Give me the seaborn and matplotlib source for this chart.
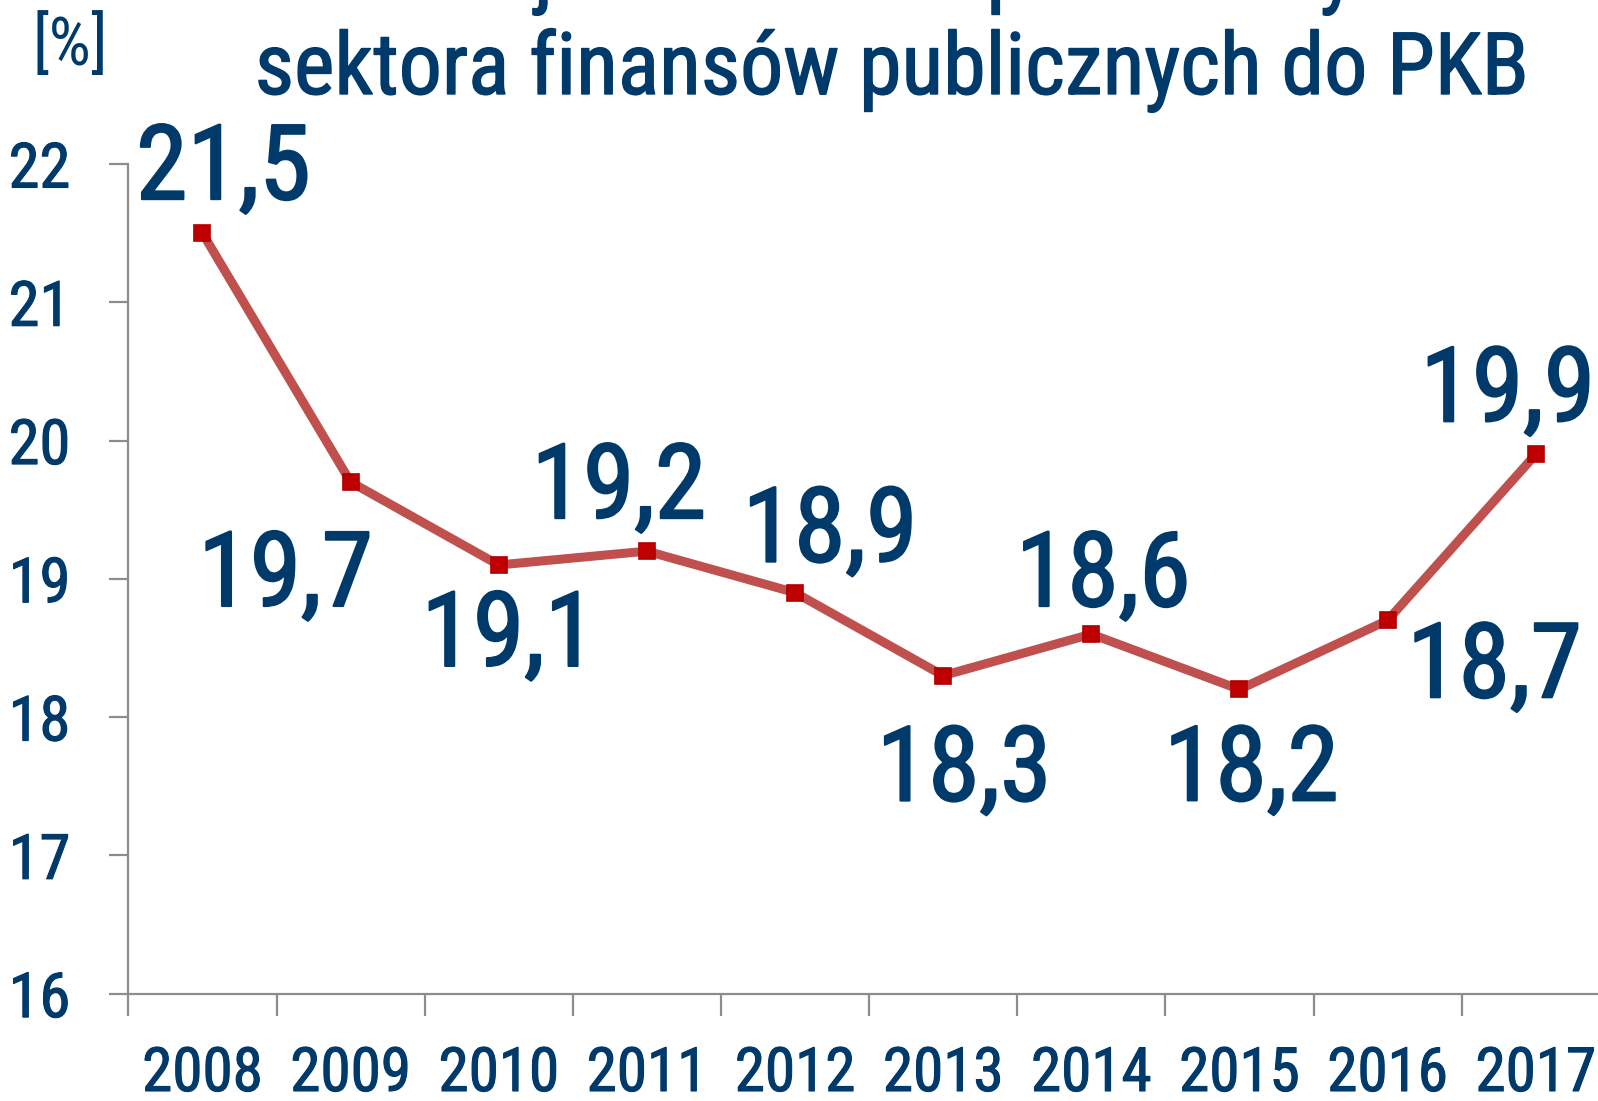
import matplotlib
matplotlib.use("Agg")
import matplotlib.pyplot as plt
import matplotlib.patheffects as pe
import seaborn as sns
import pandas as pd
from matplotlib import font_manager

years = ["2008", "2009", "2010", "2011", "2012", "2013", "2014", "2015", "2016", "2017"]
values = [21.5, 19.7, 19.1, 19.2, 18.9, 18.3, 18.6, 18.2, 18.7, 19.9]
y_ticks = [16, 17, 18, 19, 20, 21, 22]
title_line1 = "Relacja dochodów podatkowych"
title_line2 = "sektora finansów publicznych do PKB"
unit_label = "[%]"

# label offsets in pixels (dx right, dy down) relative to the point, baseline-aligned
label_dx = [21, -65, 10, -28, 35, 21, 12, 12, 107, -28]
label_dy = [-34, 124, 101, -33, -31, 125, -28, 111, 77, -33]

sns.set_theme(style="white")
names = {f.name for f in font_manager.fontManager.ttflist}
fam = [f for f in ["Liberation Sans Narrow", "Roboto Condensed", "Liberation Sans", "DejaVu Sans"] if f in names]
plt.rcParams["font.family"] = fam

TXT = "#003A6B"
GRID = "#8C8C8C"

def thick(w):
    return [pe.withStroke(linewidth=w, foreground=TXT, joinstyle="round", capstyle="round")]

df = pd.DataFrame({"year": years, "value": values})

fig = plt.figure(figsize=(15.98, 11.01), dpi=100)
W, H = 1598, 1101
ax = fig.add_axes([128.4 / W, (H - 993.6) / H, (1609.8 - 128.4) / W, (993.6 - 164) / H])

sns.lineplot(data=df, x="year", y="value", ax=ax, color="#C0504D", linewidth=6.5,
             marker="s", markersize=11, markerfacecolor="#C00000",
             markeredgecolor="#B00000", markeredgewidth=1.2, sort=False)

ax.set_xlim(-0.5, len(years) - 0.5)
ax.set_ylim(16, 22)
ax.set_yticks(y_ticks)
ax.set_yticklabels([str(t) for t in y_ticks])
ax.set_xticks(range(len(years)))
ax.set_xticklabels(years)
ax.set_xticks([i - 0.5 for i in range(len(years) + 1)], minor=True)

ax.tick_params(axis="x", which="major", length=0, pad=37, labelsize=44, labelcolor=TXT)
ax.tick_params(axis="x", which="minor", length=16, width=1.6, color=GRID, direction="out", bottom=True)
ax.tick_params(axis="y", which="major", length=14, width=1.6, color=GRID, direction="out",
               pad=50, labelsize=45, labelcolor=TXT, left=True)
for t in ax.get_yticklabels():
    t.set_ha("center")
    t.set_path_effects(thick(0.8))
for t in ax.get_xticklabels():
    t.set_path_effects(thick(0.8))

for side in ["top", "right"]:
    ax.spines[side].set_visible(False)
for side in ["left", "bottom"]:
    ax.spines[side].set_color(GRID)
    ax.spines[side].set_linewidth(1.6)
ax.set_xlabel("")
ax.set_ylabel("")
ax.grid(False)

for i, v in enumerate(values):
    ax.annotate(f"{v:.1f}".replace(".", ","), xy=(i, v), xytext=(label_dx[i], -label_dy[i]),
                textcoords="offset pixels", ha="center", va="baseline",
                fontsize=75, color=TXT, path_effects=thick(1.5))

fig.text(892 / W, 1 + 3 / H, title_line1, ha="center", va="baseline", fontsize=62, color=TXT,
         path_effects=thick(1.0))
fig.text(892 / W, (H - 94) / H, title_line2, ha="center", va="baseline", fontsize=62, color=TXT,
         path_effects=thick(1.0))
fig.text(70 / W, (H - 65) / H, unit_label, ha="center", va="baseline", fontsize=48, color=TXT)

fig.savefig("out.png", dpi=100)
